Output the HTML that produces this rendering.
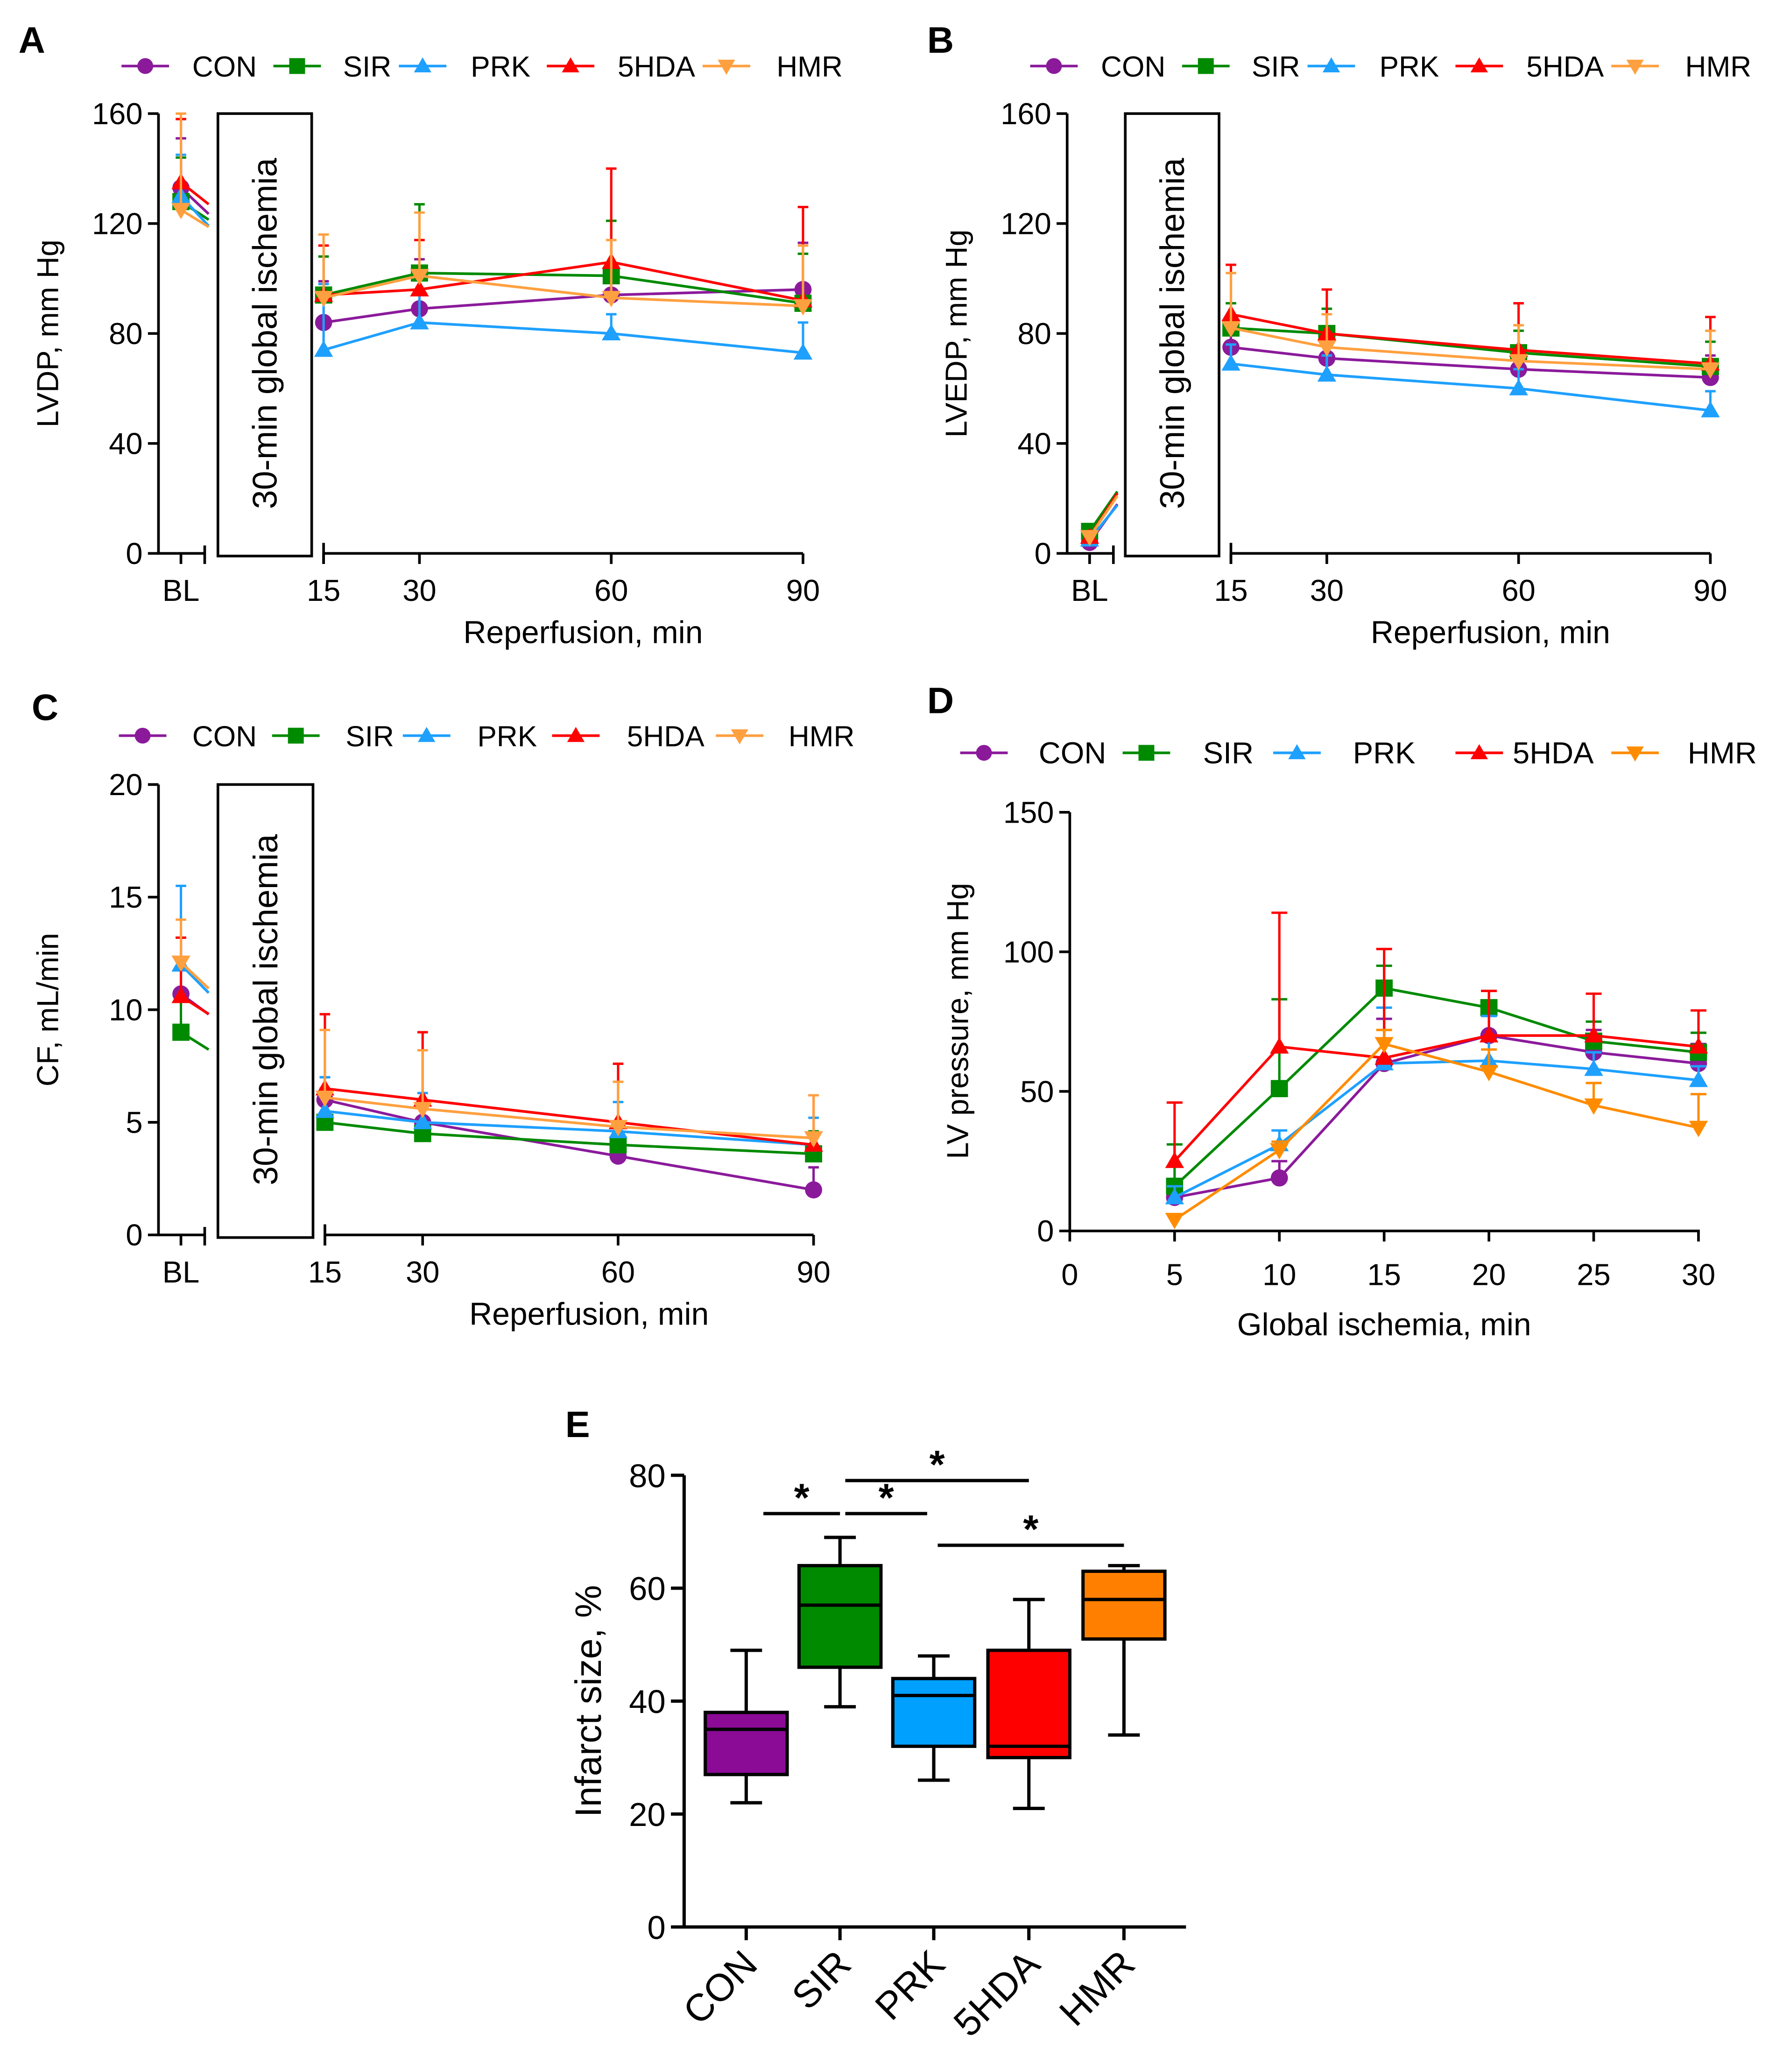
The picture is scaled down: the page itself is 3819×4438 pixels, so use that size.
<!DOCTYPE html>
<html><head><meta charset="utf-8"><style>
html,body{margin:0;padding:0;background:#fff}
svg{display:block}
text{font-family:"Liberation Sans",Arial,sans-serif;fill:#000}
</style></head><body>
<svg id="fig" width="3819" height="4438" viewBox="0 0 1350 1568.8" xmlns="http://www.w3.org/2000/svg"></svg>
<script>
// ---------- data ----------
const groups = ["CON","SIR","PRK","5HDA","HMR"];
const reperfTimes = [15,30,60,90];
// Panel A LVDP [BL,15,30,60,90]
const lvdpCON = [133,84,89,94,96];
const lvdpSIR = [128,94,102,101,91];
const lvdpPRK = [130,74,84,80,73];
const lvdp5HDA = [135,94,96,106,92];
const lvdpHMR = [125,93,101,93,90];
const lvdpErrCON = [18,15,18,10,17];
const lvdpErrSIR = [16,14,25,20,18];
const lvdpErrPRK = [15,24,10,7,11];
const lvdpErr5HDA = [23,18,18,34,34];
const lvdpErrHMR = [35,23,23,21,22];
// Panel B LVEDP
const lvedpCON = [4,75,71,67,64];
const lvedpSIR = [8,82,80,73,68];
const lvedpPRK = [5,69,65,60,52];
const lvedp5HDA = [6,87,80,74,69];
const lvedpHMR = [6,82,75,70,67];
const lvedpErrCON = [2,8,8,8,8];
const lvedpErrSIR = [2,9,9,8,9];
const lvedpErrPRK = [2,7,7,7,7];
const lvedpErr5HDA = [2,18,16,17,17];
const lvedpErrHMR = [2,20,12,13,14];
// Panel C CF
const cfCON = [10.7,6.0,5.0,3.5,2.0];
const cfSIR = [9.0,5.0,4.5,4.0,3.6];
const cfPRK = [12.0,5.5,5.0,4.6,4.0];
const cf5HDA = [10.6,6.5,6.0,5.0,4.0];
const cfHMR = [12.1,6.1,5.6,4.8,4.3];
const cfErrCON = [2.5,1,0.8,0.8,1];
const cfErrSIR = [1.5,1.5,1.2,1.0,1.0];
const cfErrPRK = [3.5,1.5,1.3,1.3,1.2];
const cfErr5HDA = [2.6,3.3,3.0,2.6,2.2];
const cfErrHMR = [1.9,3.0,2.6,2.0,1.9];
// Panel D LV pressure during ischemia
const ischTimes = [5,10,15,20,25,30];
const lvpCON = [12,19,60,70,64,60];
const lvpSIR = [16,51,87,80,68,64];
const lvpPRK = [12,31,60,61,58,54];
const lvp5HDA = [25,66,62,70,70,66];
const lvpHMR = [4,29,67,57,45,37];
const lvpErrCON = [3,6,16,8,8,7];
const lvpErrSIR = [15,32,8,6,7,7];
const lvpErrPRK = [4,5,20,16,6,5];
const lvpErr5HDA = [21,48,39,16,15,13];
const lvpErrHMR = [2,3,5,8,8,12];
// Panel E infarct size boxes
const boxMin = [22,39,26,21,34];
const boxQ1 = [27,46,32,30,51];
const boxMed = [35,57,41,32,58];
const boxQ3 = [38,64,44,49,63];
const boxMax = [49,69,48,58,64];
const yTicksA = [0,40,80,120,160];
const yTicksC = [0,5,10,15,20];
const yTicksD = [0,50,100,150];
const xTicksD = [0,5,10,15,20,25,30];
const yTicksE = [0,20,40,60,80];

const colsL = ["#8b1a9b","#008a00","#1ea0ff","#ff0000","#ffa040"];
const colsD = ["#8b1a9b","#008a00","#1ea0ff","#ff0000","#ff8c00"];
const colsE = ["#8b0a96","#008a00","#00a0ff","#ff0000","#ff8000"];
const shapes = ["circle","square","up","up","down"];

const NS="http://www.w3.org/2000/svg";
const svg=document.getElementById('fig');
function mk(tag,attrs,name,parent){
  const el=document.createElementNS(NS,tag);
  for(const k in attrs) el.setAttribute(k,attrs[k]);
  
  
  (parent||svg).appendChild(el);
  return el;
}
function txt(x,y,s,size,name,extra,parent){
  const a=Object.assign({x:x,y:y,'font-size':size},extra||{});
  const t=mk('text',a,name,parent); t.textContent=s; return t;
}
function marker(x,y,shape,col,r,name,parent){
  if(shape==="circle") return mk('circle',{cx:x,cy:y,r:r,fill:col},name,parent);
  if(shape==="square") return mk('rect',{x:x-r,y:y-r,width:2*r,height:2*r,fill:col},name,parent);
  if(shape==="up") return mk('polygon',{points:`${x},${y-r*1.1} ${x-r*1.1},${y+r*0.8} ${x+r*1.1},${y+r*0.8}`,fill:col},name,parent);
  return mk('polygon',{points:`${x},${y+r*1.1} ${x-r*1.1},${y-r*0.8} ${x+r*1.1},${y-r*0.8}`,fill:col},name,parent);
}
function legend(y,mx,tx,cols,size,pre){
  const g=mk('g',{},pre+'-legend');
  groups.forEach((n,i)=>{
    mk('line',{x1:mx[i]-18,x2:mx[i]+18,y1:y,y2:y,stroke:cols[i],'stroke-width':2},'legend-line-'+n,g);
    marker(mx[i],y,shapes[i],cols[i],6,'legend-marker-'+n,g);
    txt(tx[i],y+8,n,size,'legend-label-'+n,{'text-anchor':'middle'},g);
  });
}

function reperfPanel(o){
  const g=mk('g',{},o.name);
  const Y=v=>o.y0+(o.ymaxPx-o.y0)*v/o.ymax;
  const X=t=>o.x15+(o.x90-o.x15)*(t-15)/75;
  mk('line',{x1:o.ax,x2:o.ax,y1:o.ymaxPx,y2:o.y0+1,stroke:'#000','stroke-width':2},'y-axis',g);
  o.yt.forEach(v=>{mk('line',{x1:o.ax-8,x2:o.ax,y1:Y(v),y2:Y(v),stroke:'#000','stroke-width':2},'y-tick',g);
    txt(o.ax-12,Y(v)+8,String(v),23,'y-tick-label',{'text-anchor':'end'},g);});
  mk('line',{x1:o.ax,x2:o.ax+35,y1:o.y0,y2:o.y0,stroke:'#000','stroke-width':2},'x-axis-baseline',g);
  mk('line',{x1:o.ax+35,x2:o.ax+35,y1:o.y0-6,y2:o.y0+8,stroke:'#000','stroke-width':2},'x-axis-break',g);
  mk('line',{x1:o.bl,x2:o.bl,y1:o.y0,y2:o.y0+8,stroke:'#000','stroke-width':2},'x-tick-bl',g);
  txt(o.bl,o.y0+36,'BL',23,'x-tick-label-bl',{'text-anchor':'middle'},g);
  mk('line',{x1:o.x15,x2:o.x90,y1:o.y0,y2:o.y0,stroke:'#000','stroke-width':2},'x-axis',g);
  mk('line',{x1:o.x15,x2:o.x15,y1:o.y0-8,y2:o.y0+8,stroke:'#000','stroke-width':2},'x-axis-break',g);
  reperfTimes.forEach(t=>{mk('line',{x1:X(t),x2:X(t),y1:o.y0,y2:o.y0+8,stroke:'#000','stroke-width':2},'x-tick',g);
    txt(X(t),o.y0+36,String(t),23,'x-tick-label',{'text-anchor':'middle'},g);});
  txt((o.x15+o.x90)/2+15,o.y0+68,'Reperfusion, min',24,'x-axis-title',{'text-anchor':'middle'},g);
  txt(0,0,o.ylab,23,'y-axis-title',{'text-anchor':'middle',transform:`translate(${o.ax-76},${(o.y0+o.ymaxPx)/2}) rotate(-90)`},g);
  o.series.forEach((d,i)=>{
    const e=o.errs[i], c=o.cols[i];
    const sg=mk('g',{},'series-'+groups[i],g);
    d.forEach((v,j)=>{
      const x=j===0?o.bl:X(reperfTimes[j-1]);
      mk('line',{x1:x,x2:x,y1:Y(v),y2:Y(v+e[j]),stroke:c,'stroke-width':1.8},'error-bar',sg);
      mk('line',{x1:x-4,x2:x+4,y1:Y(v+e[j]),y2:Y(v+e[j]),stroke:c,'stroke-width':1.8},'error-cap',sg);
    });
    const xe=o.ax+38, frac=(xe-o.bl)/(o.x15-o.bl);
    mk('line',{x1:o.bl,y1:Y(d[0]),x2:xe,y2:Y(d[0]+(d[1]-d[0])*frac),stroke:c,'stroke-width':2},'baseline-stub',sg);
    const pts=d.slice(1).map((v,j)=>X(reperfTimes[j])+','+Y(v)).join(' ');
    mk('polyline',{points:pts,fill:'none',stroke:c,'stroke-width':2},'series-line',sg);
    d.forEach((v,j)=>{const x=j===0?o.bl:X(reperfTimes[j-1]); marker(x,Y(v),shapes[i],c,6.5,'data-point',sg);});
  });
  mk('rect',{x:o.bx1,y:o.ymaxPx,width:o.bx2-o.bx1,height:o.y0+2-o.ymaxPx,fill:'#fff',stroke:'#000','stroke-width':2},'ischemia-box',g);
  txt(0,0,'30-min global ischemia',26,'ischemia-label',{'text-anchor':'middle',transform:`translate(${(o.bx1+o.bx2)/2+9},${(o.y0+o.ymaxPx)/2}) rotate(-90)`},g);
}

txt(14,40,'A',28,'panel-label-a',{'font-weight':'bold'});
legend(50,[110,225,320,432,550],[170,278,379,497,613],colsL,22,'panel-a');
reperfPanel({name:'panel-a-lvdp',ax:120,y0:419,ymaxPx:86,ymax:160,yt:yTicksA,bl:137,x15:245,x90:608,bx1:165,bx2:236,
  ylab:'LVDP, mm Hg',cols:colsL,series:[lvdpCON,lvdpSIR,lvdpPRK,lvdp5HDA,lvdpHMR],errs:[lvdpErrCON,lvdpErrSIR,lvdpErrPRK,lvdpErr5HDA,lvdpErrHMR]});
txt(702,40,'B',28,'panel-label-b',{'font-weight':'bold'});
legend(50,[798,913,1008,1120,1238],[858,966,1067,1185,1301],colsL,22,'panel-b');
reperfPanel({name:'panel-b-lvedp',ax:808,y0:419,ymaxPx:86,ymax:160,yt:yTicksA,bl:825,x15:932,x90:1295,bx1:852,bx2:923,
  ylab:'LVEDP, mm Hg',cols:colsL,series:[lvedpCON,lvedpSIR,lvedpPRK,lvedp5HDA,lvedpHMR],errs:[lvedpErrCON,lvedpErrSIR,lvedpErrPRK,lvedpErr5HDA,lvedpErrHMR]});
txt(24,545,'C',28,'panel-label-c',{'font-weight':'bold'});
legend(557,[108,224,323,436,560],[170,280,384,504,622],colsL,22,'panel-c');
reperfPanel({name:'panel-c-cf',ax:120,y0:935,ymaxPx:594,ymax:20,yt:yTicksC,bl:137,x15:246,x90:616,bx1:165,bx2:237,
  ylab:'CF, mL/min',cols:colsL,series:[cfCON,cfSIR,cfPRK,cf5HDA,cfHMR],errs:[cfErrCON,cfErrSIR,cfErrPRK,cfErr5HDA,cfErrHMR]});

(function(){
  txt(702,540,'D',28,'panel-label-d',{'font-weight':'bold'});
  legend(570,[745,868,982,1120,1238],[812,930,1048,1176,1304],colsD,23,'panel-d');
  const g=mk('g',{},'panel-d-lv-pressure');
  const ax=810,y0=932,yt=615;
  const Y=v=>y0+(yt-y0)*v/150, X=t=>ax+(1286-ax)*t/30;
  mk('line',{x1:ax,x2:ax,y1:yt,y2:y0+1,stroke:'#000','stroke-width':2},'y-axis',g);
  mk('line',{x1:ax,x2:1287,y1:y0,y2:y0,stroke:'#000','stroke-width':2},'x-axis',g);
  yTicksD.forEach(v=>{mk('line',{x1:ax-8,x2:ax,y1:Y(v),y2:Y(v),stroke:'#000','stroke-width':2},'y-tick',g);
    txt(ax-12,Y(v)+8,String(v),23,'y-tick-label',{'text-anchor':'end'},g);});
  xTicksD.forEach(t=>{mk('line',{x1:X(t),x2:X(t),y1:y0,y2:y0+8,stroke:'#000','stroke-width':2},'x-tick',g);
    txt(X(t),y0+41,String(t),23,'x-tick-label',{'text-anchor':'middle'},g);});
  txt(1048,1011,'Global ischemia, min',24,'x-axis-title',{'text-anchor':'middle'},g);
  txt(0,0,'LV pressure, mm Hg',23,'y-axis-title',{'text-anchor':'middle',transform:`translate(733,773) rotate(-90)`},g);
  const S=[lvpCON,lvpSIR,lvpPRK,lvp5HDA,lvpHMR], E=[lvpErrCON,lvpErrSIR,lvpErrPRK,lvpErr5HDA,lvpErrHMR];
  S.forEach((d,i)=>{
    const c=colsD[i]; const sg=mk('g',{},'series-'+groups[i],g);
    d.forEach((v,j)=>{const x=X(ischTimes[j]);
      mk('line',{x1:x,x2:x,y1:Y(v),y2:Y(v+E[i][j]),stroke:c,'stroke-width':1.8},'error-bar',sg);
      mk('line',{x1:x-6,x2:x+6,y1:Y(v+E[i][j]),y2:Y(v+E[i][j]),stroke:c,'stroke-width':1.8},'error-cap',sg);});
    mk('polyline',{points:d.map((v,j)=>X(ischTimes[j])+','+Y(v)).join(' '),fill:'none',stroke:c,'stroke-width':2},'series-line',sg);
    d.forEach((v,j)=>marker(X(ischTimes[j]),Y(v),shapes[i],c,6.5,'data-point',sg));
  });
})();

(function(){
  txt(428,1088,'E',28,'panel-label-e',{'font-weight':'bold'});
  const g=mk('g',{},'panel-e-infarct');
  const ax=518,y0=1459,yt=1117;
  const Y=v=>y0+(yt-y0)*v/80;
  const cx=[565,636,707,779,851];
  mk('line',{x1:ax,x2:ax,y1:yt,y2:y0+1,stroke:'#000','stroke-width':2.5},'y-axis',g);
  mk('line',{x1:ax,x2:898,y1:y0,y2:y0,stroke:'#000','stroke-width':2.5},'x-axis',g);
  yTicksE.forEach(v=>{mk('line',{x1:ax-10,x2:ax,y1:Y(v),y2:Y(v),stroke:'#000','stroke-width':2.5},'y-tick',g);
    txt(ax-14,Y(v)+9,String(v),25,'y-tick-label',{'text-anchor':'end'},g);});
  txt(0,0,'Infarct size, %',28,'y-axis-title',{'text-anchor':'middle',transform:`translate(455,1288) rotate(-90)`},g);
  groups.forEach((n,i)=>{
    const x=cx[i], w=31, bg=mk('g',{},'box-'+n,g);
    mk('line',{x1:x,x2:x,y1:y0,y2:y0+10,stroke:'#000','stroke-width':2.5},'x-tick',bg);
    mk('line',{x1:x,x2:x,y1:Y(boxMin[i]),y2:Y(boxMax[i]),stroke:'#000','stroke-width':2.5},'whisker',bg);
    mk('line',{x1:x-12,x2:x+12,y1:Y(boxMax[i]),y2:Y(boxMax[i]),stroke:'#000','stroke-width':2.5},'whisker-cap',bg);
    mk('line',{x1:x-12,x2:x+12,y1:Y(boxMin[i]),y2:Y(boxMin[i]),stroke:'#000','stroke-width':2.5},'whisker-cap',bg);
    mk('rect',{x:x-w,y:Y(boxQ3[i]),width:2*w,height:Y(boxQ1[i])-Y(boxQ3[i]),fill:colsE[i],stroke:'#000','stroke-width':2.5},'box',bg);
    mk('line',{x1:x-w,x2:x+w,y1:Y(boxMed[i]),y2:Y(boxMed[i]),stroke:'#000','stroke-width':2.5},'median',bg);
    txt(0,0,n,29,'x-tick-label-'+n,{'text-anchor':'end',transform:`translate(${x+10},${y0+30}) rotate(-45)`},bg);
  });
  const sig=[[578,636,1146],[640,702,1146],[640,779,1121],[710,851,1170]];
  sig.forEach(s=>{mk('line',{x1:s[0],x2:s[1],y1:s[2],y2:s[2],stroke:'#000','stroke-width':2.5},'significance-line',g);
    txt((s[0]+s[1])/2,s[2]-2,'*',30,'significance-star',{'text-anchor':'middle','font-weight':'bold'},g);});
})();
</script>
</body></html>
